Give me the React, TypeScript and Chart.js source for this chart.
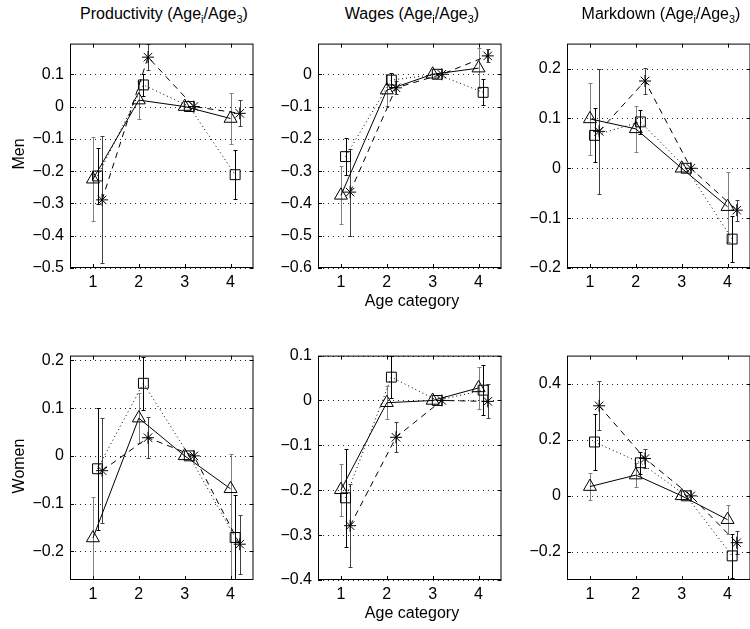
import React, { useEffect, useRef } from 'react';
import { Chart, registerables } from 'chart.js';

Chart.register(...registerables);

// ---------- data ----------
const ageCategories = [1, 2, 3, 4];
const panelTitles = ['Productivity', 'Wages', 'Markdown'];
const rowLabels = ['Men', 'Women'];
const xAxisLabel = 'Age category';

// Productivity, Men
const prodMenTicks = [-0.5, -0.4, -0.3, -0.2, -0.1, 0, 0.1];
const prodMenTri = [-0.225, 0.02, 0, -0.037];
const prodMenTriErr = [0.13, 0.058, 0, 0.08];
const prodMenSq = [-0.215, 0.067, 0, -0.211];
const prodMenSqErr = [0.088, 0.034, 0, 0.075];
const prodMenStar = [-0.289, 0.153, 0, -0.021];
const prodMenStarErr = [0.197, 0.04, 0, 0.04];

// Wages, Men
const wageMenTicks = [-0.6, -0.5, -0.4, -0.3, -0.2, -0.1, 0];
const wageMenTri = [-0.375, -0.049, 0, 0.019];
const wageMenTriErr = [0.09, 0.05, 0, 0.062];
const wageMenSq = [-0.255, -0.018, 0, -0.056];
const wageMenSqErr = [0.058, 0.022, 0, 0.04];
const wageMenStar = [-0.365, -0.042, 0, 0.057];
const wageMenStarErr = [0.135, 0.02, 0, 0.02];

// Markdown, Men
const markMenTicks = [-0.2, -0.1, 0, 0.1, 0.2];
const markMenTri = [0.099, 0.079, 0, -0.077];
const markMenTriErr = [0.072, 0.046, 0, 0.07];
const markMenSq = [0.066, 0.093, 0, -0.142];
const markMenSqErr = [0.054, 0.024, 0, 0.046];
const markMenStar = [0.074, 0.175, 0, -0.084];
const markMenStarErr = [0.125, 0.026, 0, 0.021];

// Productivity, Women  (an entry [down, up] is an asymmetric bar)
const prodWomTicks = [-0.2, -0.1, 0, 0.1, 0.2];
const prodWomTri = [-0.172, 0.079, 0, -0.069];
const prodWomTriErr: (number | [number, number])[] = [0.085, 0.053, 0, [0.19, 0.072]];
const prodWomSq = [-0.027, 0.152, 0, -0.171];
const prodWomSqErr = [0.128, 0.056, 0, 0.09];
const prodWomStar = [-0.031, 0.038, 0, -0.185];
const prodWomStarErr = [0.11, 0.043, 0, 0.062];

// Wages, Women
const wageWomTicks = [-0.4, -0.3, -0.2, -0.1, 0, 0.1];
const wageWomTri = [-0.199, -0.005, 0, 0.028];
const wageWomTriErr = [0.058, 0.037, 0, 0.046];
const wageWomSq = [-0.217, 0.052, 0, 0.023];
const wageWomSqErr = [0.11, 0.046, 0, 0.056];
const wageWomStar = [-0.279, -0.082, 0, -0.002];
const wageWomStarErr = [0.092, 0.033, 0, 0.038];

// Markdown, Women
const markWomTicks = [-0.2, 0, 0.2, 0.4];
const markWomTri = [0.033, 0.074, 0, -0.085];
const markWomTriErr = [0.049, 0.043, 0, 0.052];
const markWomSq = [0.192, 0.118, 0, -0.214];
const markWomSqErr = [0.1, 0.04, 0, 0.078];
const markWomStar = [0.321, 0.133, 0, -0.167];
const markWomStarErr = [0.087, 0.034, 0, 0.041];

// ---------- layout / style ----------
const FONT = '"Liberation Sans", Arial, Helvetica, sans-serif';
const COL_LEFT = [70, 318, 567];
const ROW_TOP = [40, 352];
const PLOT_W = 188;
const PLOT_H = 228;
const PAD_L = 60;
const PAD_R = 4;
const PAD_T = 12;
const PAD_B = 30;
const X_MIN = 0.5;
const X_MAX = 4.5;
const xOffsets = [0, 0.1, 0.2];

const seriesStyle = [
  { pointStyle: 'triangle', radius: 7.5, dash: [] as number[], errColor: '#808080' },
  { pointStyle: 'rect', radius: 7, dash: [1, 3], errColor: '#000000' },
  { pointStyle: 'star', radius: 6, dash: [6, 5], errColor: '#404040' },
];

type Err = number | [number, number];
type PanelDef = {
  row: number;
  col: number;
  yMin: number;
  yMax: number;
  yTicks: number[];
  series: [number[], Err[]][];
};

const panels: PanelDef[] = [
  { row: 0, col: 0, yMin: -0.5, yMax: 0.195, yTicks: prodMenTicks,
    series: [[prodMenTri, prodMenTriErr], [prodMenSq, prodMenSqErr], [prodMenStar, prodMenStarErr]] },
  { row: 0, col: 1, yMin: -0.6, yMax: 0.095, yTicks: wageMenTicks,
    series: [[wageMenTri, wageMenTriErr], [wageMenSq, wageMenSqErr], [wageMenStar, wageMenStarErr]] },
  { row: 0, col: 2, yMin: -0.2, yMax: 0.25, yTicks: markMenTicks,
    series: [[markMenTri, markMenTriErr], [markMenSq, markMenSqErr], [markMenStar, markMenStarErr]] },
  { row: 1, col: 0, yMin: -0.26, yMax: 0.21, yTicks: prodWomTicks,
    series: [[prodWomTri, prodWomTriErr], [prodWomSq, prodWomSqErr], [prodWomStar, prodWomStarErr]] },
  { row: 1, col: 1, yMin: -0.4, yMax: 0.1, yTicks: wageWomTicks,
    series: [[wageWomTri, wageWomTriErr], [wageWomSq, wageWomSqErr], [wageWomStar, wageWomStarErr]] },
  { row: 1, col: 2, yMin: -0.3, yMax: 0.5, yTicks: markWomTicks,
    series: [[markWomTri, markWomTriErr], [markWomSq, markWomSqErr], [markWomStar, markWomStarErr]] },
];

function fmt(v: number): string {
  if (Math.abs(v) < 1e-9) return '0';
  const s = Math.abs(v).toFixed(1);
  return v < 0 ? '\u2212' + s : s;
}

function PanelChart({ p }: { p: PanelDef }) {
  const ref = useRef<HTMLCanvasElement>(null);
  const W = PAD_L + PLOT_W + PAD_R;
  const H = PAD_T + PLOT_H + PAD_B;

  useEffect(() => {
    const canvas = ref.current;
    if (!canvas) return;

    const axesPlugin = {
      id: 'matlabAxes',
      beforeDatasetsDraw(chart: any) {
        const { ctx, chartArea: a, scales } = chart;
        const xs = scales.x;
        const ys = scales.y;
        ctx.save();
        // dotted horizontal grid
        ctx.strokeStyle = '#222';
        ctx.lineWidth = 1;
        ctx.setLineDash([1, 4]);
        for (const v of p.yTicks) {
          const py = Math.round(ys.getPixelForValue(v)) + 0.5;
          ctx.beginPath();
          ctx.moveTo(a.left, py);
          ctx.lineTo(a.right, py);
          ctx.stroke();
        }
        ctx.setLineDash([]);
        // error bars
        ctx.beginPath();
        ctx.rect(a.left, a.top, a.right - a.left, a.bottom - a.top);
        ctx.clip();
        p.series.forEach(([vals, errs], si) => {
          ctx.strokeStyle = seriesStyle[si].errColor;
          ctx.lineWidth = 1;
          ageCategories.forEach((c, i) => {
            const e = errs[i];
            const down = Array.isArray(e) ? e[0] : e;
            const up = Array.isArray(e) ? e[1] : e;
            if (!down && !up) return;
            const px = Math.round(xs.getPixelForValue(c + xOffsets[si])) + 0.5;
            const y1 = Math.round(ys.getPixelForValue(vals[i] + up)) + 0.5;
            const y2 = Math.round(ys.getPixelForValue(vals[i] - down)) + 0.5;
            ctx.beginPath();
            ctx.moveTo(px, y1);
            ctx.lineTo(px, y2);
            ctx.moveTo(px - 2, y1);
            ctx.lineTo(px + 2, y1);
            ctx.moveTo(px - 2, y2);
            ctx.lineTo(px + 2, y2);
            ctx.stroke();
          });
        });
        ctx.restore();
      },
      afterDraw(chart: any) {
        const { ctx, chartArea: a, scales } = chart;
        const xs = scales.x;
        const ys = scales.y;
        ctx.save();
        ctx.strokeStyle = '#000';
        ctx.lineWidth = 1;
        ctx.setLineDash([]);
        ctx.strokeRect(a.left + 0.5, a.top + 0.5, a.right - a.left - 1, a.bottom - a.top - 1);
        const tl = 4;
        ctx.beginPath();
        for (const c of ageCategories) {
          const px = Math.round(xs.getPixelForValue(c)) + 0.5;
          ctx.moveTo(px, a.bottom);
          ctx.lineTo(px, a.bottom - tl);
          ctx.moveTo(px, a.top);
          ctx.lineTo(px, a.top + tl);
        }
        for (const v of p.yTicks) {
          const py = Math.round(ys.getPixelForValue(v)) + 0.5;
          ctx.moveTo(a.left, py);
          ctx.lineTo(a.left + tl, py);
          ctx.moveTo(a.right, py);
          ctx.lineTo(a.right - tl, py);
        }
        ctx.stroke();
        ctx.restore();
      },
    };

    const chart = new Chart(canvas, {
      type: 'scatter',
      data: {
        datasets: p.series.map(([vals], si) => {
          const st = seriesStyle[si];
          return {
            data: ageCategories.map((c, i) => ({ x: c + xOffsets[si], y: vals[i] })),
            showLine: true,
            borderColor: '#000',
            borderWidth: 1,
            borderDash: st.dash,
            pointStyle: st.pointStyle as any,
            pointRadius: st.radius,
            pointHoverRadius: st.radius,
            pointBorderColor: '#000',
            pointBackgroundColor: 'rgba(0,0,0,0)',
            pointBorderWidth: 1,
            tension: 0,
          };
        }),
      },
      options: {
        animation: false,
        responsive: false,
        events: [],
        layout: { padding: { left: 0, right: PAD_R, top: PAD_T, bottom: 0 } },
        plugins: { legend: { display: false }, tooltip: { enabled: false } },
        scales: {
          x: {
            type: 'linear',
            min: X_MIN,
            max: X_MAX,
            grid: { display: false, drawTicks: false },
            border: { display: false },
            afterBuildTicks: (s: any) => {
              s.ticks = ageCategories.map((v) => ({ value: v }));
            },
            afterFit: (s: any) => {
              s.height = PAD_B;
            },
            ticks: {
              autoSkip: false,
              maxRotation: 0,
              padding: 5,
              color: '#000',
              font: { family: FONT, size: 16 },
              callback: (v: any) => String(v),
            },
          },
          y: {
            type: 'linear',
            min: p.yMin,
            max: p.yMax,
            grid: { display: false, drawTicks: false },
            border: { display: false },
            afterBuildTicks: (s: any) => {
              s.ticks = p.yTicks.map((v) => ({ value: v }));
            },
            afterFit: (s: any) => {
              s.width = PAD_L;
            },
            ticks: {
              autoSkip: false,
              padding: 6,
              color: '#000',
              font: { family: FONT, size: 16 },
              callback: (v: any) => fmt(Number(v)),
            },
          },
        },
      },
      plugins: [axesPlugin],
    } as any);
    return () => chart.destroy();
  }, [p]);

  return (
    <canvas
      ref={ref}
      width={W}
      height={H}
      style={{
        position: 'absolute',
        left: COL_LEFT[p.col] - PAD_L,
        top: ROW_TOP[p.row] - PAD_T,
        width: W,
        height: H,
      }}
    />
  );
}

const textBase: React.CSSProperties = {
  position: 'absolute',
  fontFamily: FONT,
  fontSize: 16,
  lineHeight: '20px',
  whiteSpace: 'nowrap',
  textAlign: 'center',
  color: '#000',
};

const subStyle: React.CSSProperties = { fontSize: 11, position: 'relative', top: 4 };

export default function App() {
  return (
    <div
      style={{
        position: 'fixed',
        left: 0,
        top: 0,
        width: 750,
        height: 629,
        overflow: 'hidden',
        background: '#fff',
      }}
    >
      {panels.map((p, i) => (
        <PanelChart key={i} p={p} />
      ))}
      {panelTitles.map((t, c) => (
        <div key={t} style={{ ...textBase, left: COL_LEFT[c] + PLOT_W / 2 - 150, width: 300, top: 4 }}>
          {t} (Age<span style={subStyle}>i</span>/Age<span style={subStyle}>3</span>)
        </div>
      ))}
      {rowLabels.map((r, ri) => (
        <div
          key={r}
          style={{
            ...textBase,
            left: 18.5 - 50,
            top: ROW_TOP[ri] + PLOT_H / 2 - 10,
            width: 100,
            height: 20,
            transform: 'rotate(-90deg)',
          }}
        >
          {r}
        </div>
      ))}
      {ROW_TOP.map((t, ri) => (
        <div
          key={ri}
          style={{ ...textBase, left: COL_LEFT[1] + PLOT_W / 2 - 100, width: 200, top: t + PLOT_H + 23 }}
        >
          {xAxisLabel}
        </div>
      ))}
    </div>
  );
}
